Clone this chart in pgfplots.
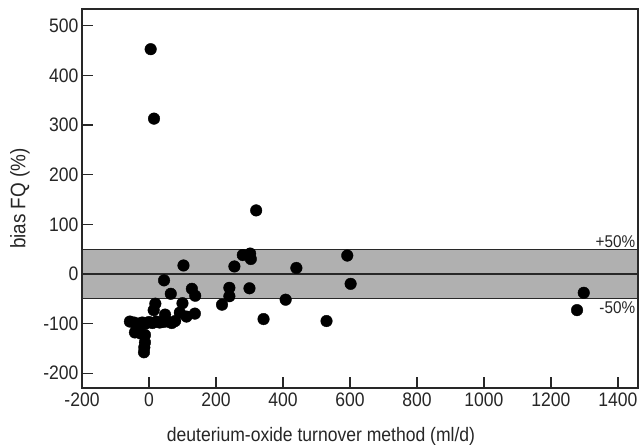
\documentclass[border=0pt]{standalone}
\usepackage{pgfplots}
\pgfplotsset{compat=1.18}
\usepackage{fontspec}
\setmainfont[FakeStretch=0.9]{Liberation Sans}
\definecolor{bandgray}{RGB}{176,176,176}
\definecolor{axgray}{RGB}{40,40,40}
\pgfplotstableread{
x y
5 453
15 313
320 128
592 37
280 38
302 41
304 30
255 15
440 12
103 17
45 -13
65 -40
128 -30
138 -44
240 -28
240 -45
300 -29
602 -20
1298 -38
1278 -73
408 -52
218 -62
342 -91
530 -95
19 -60
14 -73
100 -59
92 -78
112 -86
137 -80
48 -82
-57 -96
-45 -98
-32 -100
-20 -98
-10 -100
0 -97
10 -99
22 -96
32 -98
42 -97
55 -96
68 -99
78 -95
-42 -118
-25 -120
-12 -123
-12 -138
-14 -148
-15 -158
}\datatable
\begin{document}
\begin{tikzpicture}
\begin{axis}[
  scale only axis,
  width=556pt, height=379pt,
  xmin=-200, xmax=1460, ymin=-230, ymax=534,
  xtick={-200,0,...,1400}, ytick={-200,-100,...,500},
  xtick pos=bottom, ytick pos=left,
  tick align=inside,
  major tick length=11pt,
  axis line style={axgray, line width=1.3pt},
  every tick/.style={axgray, line width=1.2pt},
  /pgf/number format/assume math mode=true,
  /pgf/number format/set thousands separator={},
  tick label style={font=\fontsize{19.5}{22}\selectfont, text=black!85},
  xticklabel style={yshift=-1pt},
  label style={font=\fontsize{19.5}{22}\selectfont, text=black!85},
  xlabel={deuterium-oxide turnover method (ml/d)},
  ylabel={bias FQ (\%)},
  xlabel style={at={(axis description cs:0.5,0)}, anchor=base, xshift=-39pt, yshift=-53pt},
  ylabel style={at={(axis description cs:0,0.5)}, anchor=center, yshift=62pt, font=\fontsize{21}{24}\selectfont},
  clip=false,
  axis on top,
]
\fill[bandgray] (axis cs:-200,-50) rectangle (axis cs:1460,50);
\draw[axgray, line width=1.2pt] (axis cs:-200,50) -- (axis cs:1460,50);
\draw[axgray, line width=1.2pt] (axis cs:-200,0) -- (axis cs:1460,0);
\draw[axgray, line width=1.2pt] (axis cs:-200,-50) -- (axis cs:1460,-50);
\addplot[only marks, mark=*, mark size=5.8pt, mark options={fill=black, draw=black}] table[x=x,y=y] {\datatable};
\node[anchor=south east, inner sep=1pt, font=\fontsize{17}{19}\selectfont, text=black!85] at (axis cs:1455,51) {+50\%};
\node[anchor=north east, inner sep=1pt, font=\fontsize{17}{19}\selectfont, text=black!85] at (axis cs:1455,-54) {-50\%};
\end{axis}
\pgfresetboundingbox
\path[use as bounding box] ([xshift=-82pt,yshift=-56pt]current axis.south west) rectangle ([xshift=3pt,yshift=9pt]current axis.north east);
\end{tikzpicture}
\end{document}
